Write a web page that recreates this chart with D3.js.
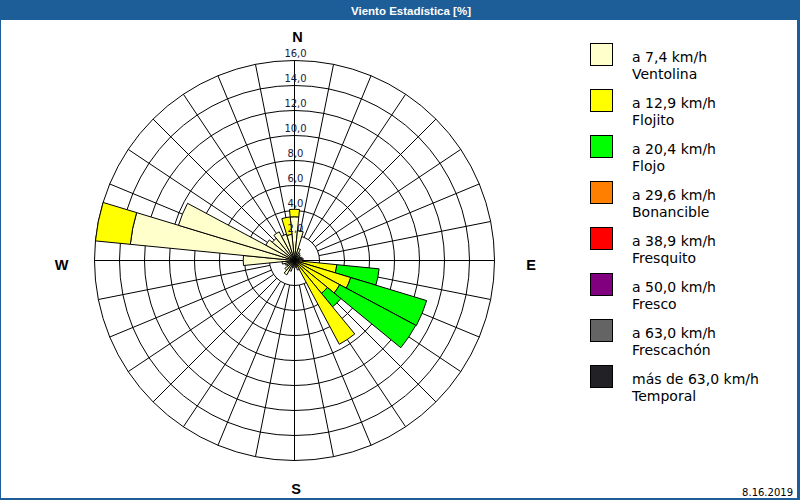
<!DOCTYPE html>
<html><head><meta charset="utf-8">
<script src="https://cdn.jsdelivr.net/npm/d3@7"></script>
<style>body{margin:0;background:#fff}svg{display:block}</style>
</head><body>
<svg id="chart" width="800" height="500"></svg>
<script>
// ---- data ----
const directions = [0, 11.25, 22.5, 33.75, 45, 56.25, 67.5, 78.75, 90, 101.25, 112.5, 123.75, 135, 146.25, 157.5, 168.75,
                    180, 191.25, 202.5, 213.75, 225, 236.25, 247.5, 258.75, 270, 281.25, 292.5, 303.75, 315, 326.25, 337.5, 348.75];
const ventolina = [3.5, 2.4, 1.0, 0.7, 0.6, 0.5, 0.6, 0.7, 0.6, 0.4, 0.4, 0.4, 0.4, 0.4, 0.8, 0.5,
                   0.6, 0.5, 0.9, 1.3, 1.0, 0.7, 0.8, 1.0, 4.1, 13.2, 9.7, 2.6, 2.3, 2.6, 2.2, 2.1];
const flojito   = [0.6, 0, 0, 0, 0, 0, 0, 0, 0, 3.0, 4.3, 3.7, 3.0, 7.2, 0, 0,
                   0, 0, 0, 0, 0, 0, 0, 0, 0, 2.8, 0, 0, 0, 0, 0, 1.4];
const flojo     = [0, 0, 0, 0, 0, 0, 0, 0, 0, 3.4, 6.35, 6.9, 1.4, 0, 0, 0,
                   0, 0, 0, 0, 0, 0, 0, 0, 0, 0, 0, 0, 0, 0, 0, 0];
const ringTicks = [2, 4, 6, 8, 10, 12, 14, 16];
const tickLabels = ["2,0", "4,0", "6,0", "8,0", "10,0", "12,0", "14,0", "16,0"];
const legendRanges = ["a 7,4 km/h", "a 12,9 km/h", "a 20,4 km/h", "a 29,6 km/h", "a 38,9 km/h", "a 50,0 km/h", "a 63,0 km/h", "más de 63,0 km/h"];
const legendNames = ["Ventolina", "Flojito", "Flojo", "Bonancible", "Fresquito", "Fresco", "Frescachón", "Temporal"];
const compassLabels = ["N", "E", "S", "W"];
const titleText = "Viento Estadística [%]";
const dateText = "8.16.2019";

// ---- styles ----
const colors = ["#FFFFCC", "#FFFF00", "#00FF00", "#FF8000", "#FF0000", "#800080", "#646464", "#222226"];
const frameBlue = "#1D5E98";

const svg = d3.select("#chart");
const cx = 294.5, cy = 260.5, R = 200;
const r = d3.scaleLinear().domain([0, 16]).range([0, R]);
const deg = d3.scaleLinear().domain([0, 360]).range([0, 2 * Math.PI]);
const half = deg(11.25) / 2;

svg.append("rect").attr("width", 800).attr("height", 500).attr("fill", "#fff");

// frame + title bar
svg.append("rect").attr("x", 0).attr("y", 0).attr("width", 800).attr("height", 20).attr("fill", frameBlue);
svg.append("rect").attr("x", 0).attr("y", 0).attr("width", 1).attr("height", 500).attr("fill", frameBlue);
svg.append("rect").attr("x", 797).attr("y", 0).attr("width", 3).attr("height", 500).attr("fill", frameBlue);
svg.append("rect").attr("x", 0).attr("y", 498).attr("width", 800).attr("height", 2).attr("fill", frameBlue);
svg.append("text").attr("x", 411).attr("y", 14.5).attr("text-anchor", "middle")
  .attr("font-family", "Liberation Sans, Arial, sans-serif").attr("font-weight", "bold").attr("font-size", 11.5)
  .attr("fill", "#fff").text(titleText);

const g = svg.append("g").attr("transform", `translate(${cx},${cy})`);

// rings
g.selectAll("circle.ring").data(ringTicks).join("circle").attr("class", "ring")
  .attr("r", d => r(d)).attr("fill", "none").attr("stroke", "#000").attr("stroke-width", 1);

// spokes
g.selectAll("line.spoke").data(directions).join("line").attr("class", "spoke")
  .attr("x1", d => r(ringTicks[0]) * Math.sin(deg(d))).attr("y1", d => -r(ringTicks[0]) * Math.cos(deg(d)))
  .attr("x2", d => R * Math.sin(deg(d))).attr("y2", d => -R * Math.cos(deg(d)))
  .attr("stroke", "#000").attr("stroke-width", 1);

// axes through centre
g.append("line").attr("x1", -R).attr("x2", R).attr("y1", 0).attr("y2", 0).attr("stroke", "#000");
g.append("line").attr("y1", -R).attr("y2", R).attr("x1", 0).attr("x2", 0).attr("stroke", "#000");

// stacked bars
const series = [ventolina, flojito, flojo];
const arc = d3.arc();
const segs = [];
directions.forEach((dir, i) => {
  let acc = 0;
  series.forEach((s, k) => {
    const v = s[i];
    if (v > 0) {
      segs.push({ dir, y0: acc, y1: acc + v, k });
      acc += v;
    }
  });
});
g.selectAll("path.bar").data(segs).join("path").attr("class", "bar")
  .attr("d", d => arc({ innerRadius: r(d.y0), outerRadius: r(d.y1), startAngle: deg(d.dir) - half, endAngle: deg(d.dir) + half }))
  .attr("fill", d => colors[d.k]).attr("stroke", "#000").attr("stroke-width", 1).attr("stroke-linejoin", "miter");

// ring labels
g.selectAll("text.tick").data(ringTicks).join("text").attr("class", "tick")
  .attr("x", 1).attr("y", d => -r(d) - 3.5).attr("text-anchor", "middle")
  .attr("font-family", "DejaVu Sans, Verdana, sans-serif").attr("font-size", 10).attr("fill", "#1a1a3a")
  .text((d, i) => tickLabels[i]);

// compass labels
const compassPos = [
  [3, -R - 18.5], [R + 36.5, 9.5], [1.5, R + 33], [-R - 33, 9.5]
];
g.selectAll("text.compass").data(compassLabels).join("text").attr("class", "compass")
  .attr("x", (d, i) => compassPos[i][0]).attr("y", (d, i) => compassPos[i][1]).attr("text-anchor", "middle")
  .attr("font-family", "Liberation Sans, Arial, sans-serif").attr("font-weight", "bold").attr("font-size", 14.5)
  .attr("fill", "#000").text(d => d);

// legend
const lg = svg.append("g");
const items = lg.selectAll("g.item").data(legendRanges).join("g").attr("class", "item")
  .attr("transform", (d, i) => `translate(590.5, ${43.5 + 46 * i})`);
items.append("rect").attr("width", 22).attr("height", 22).attr("fill", (d, i) => colors[i]).attr("stroke", "#000");
items.append("text").attr("x", 41.5).attr("y", 18.2).attr("font-family", "DejaVu Sans, Verdana, sans-serif")
  .attr("font-size", 14).attr("fill", "#000").text(d => d);
items.append("text").attr("x", 41.5).attr("y", 35.8).attr("font-family", "DejaVu Sans, Verdana, sans-serif")
  .attr("font-size", 14).attr("fill", "#000").text((d, i) => legendNames[i]);

// date
svg.append("text").attr("x", 793).attr("y", 495.5).attr("text-anchor", "end")
  .attr("font-family", "DejaVu Sans, Verdana, sans-serif").attr("font-size", 10).attr("fill", "#000").text(dateText);
</script>
</body></html>
